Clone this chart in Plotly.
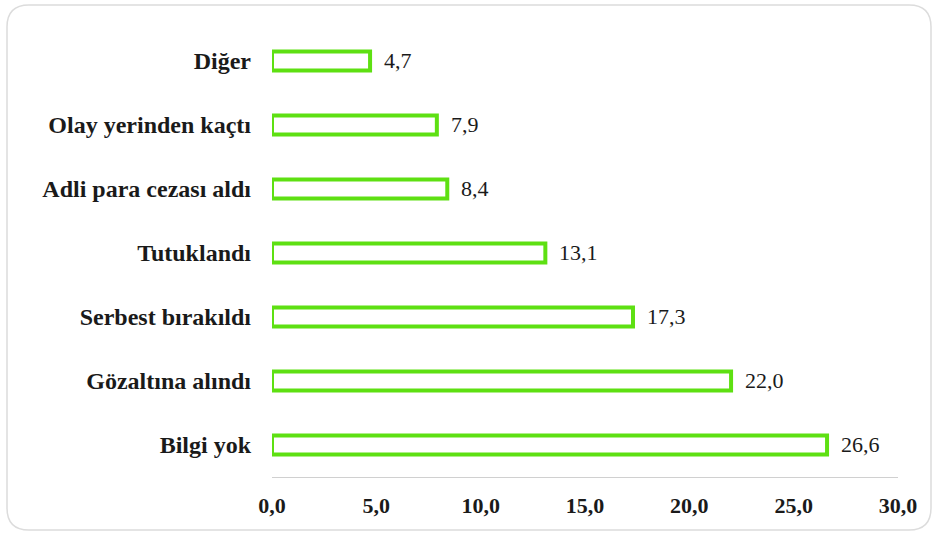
import plotly.graph_objects as go

# Categories listed bottom-to-top as drawn on the y axis
categories = ["Bilgi yok", "Gözaltına alındı", "Serbest bırakıldı", "Tutuklandı",
              "Adli para cezası aldı", "Olay yerinden kaçtı", "Diğer"]
values = [26.6, 22.0, 17.3, 13.1, 8.4, 7.9, 4.7]
tick_values = [0, 5, 10, 15, 20, 25, 30]

W, H = 936, 534
L, R, T, B = 272, 38, 29, 57
pw, ph = W - L - R, H - T - B

GREEN = "#5ee012"
SERIF = "Liberation Serif"

fig = go.Figure()
fig.add_trace(go.Bar(
    x=values, y=categories, orientation="h",
    width=0.3,
    marker=dict(color="white", line=dict(color=GREEN, width=4)),
    hoverinfo="skip",
))

# value labels to the right of each bar
for c, v in zip(categories, values):
    fig.add_annotation(
        x=v, y=c, text=f"{v:.1f}".replace(".", ","), showarrow=False,
        xanchor="left", xshift=12, yshift=1,
        font=dict(family=SERIF, size=22, color="#1a1a1a"),
    )

# rounded frame around the whole chart (in paper coordinates)
def px(x):
    return (x - L) / pw

def py(y):
    return (H - B - y) / ph

x0, x1, y0, y1, r = 7, 931, 5, 530, 22
path = (
    f"M {px(x0 + r)} {py(y0)} L {px(x1 - r)} {py(y0)} "
    f"Q {px(x1)} {py(y0)} {px(x1)} {py(y0 + r)} "
    f"L {px(x1)} {py(y1 - r)} Q {px(x1)} {py(y1)} {px(x1 - r)} {py(y1)} "
    f"L {px(x0 + r)} {py(y1)} Q {px(x0)} {py(y1)} {px(x0)} {py(y1 - r)} "
    f"L {px(x0)} {py(y0 + r)} Q {px(x0)} {py(y0)} {px(x0 + r)} {py(y0)} Z"
)
fig.add_shape(type="path", path=path, xref="paper", yref="paper",
              line=dict(color="#dcdcdc", width=1.5), layer="below")

fig.update_layout(
    width=W, height=H,
    margin=dict(l=L, r=R, t=T, b=B, autoexpand=False),
    paper_bgcolor="white", plot_bgcolor="white",
    separators=",.",
    showlegend=False,
    xaxis=dict(
        range=[0, 30], tickvals=tick_values, tickformat=".1f",
        showgrid=False, zeroline=False,
        showline=True, linecolor="#d0d0d0", linewidth=1,
        ticks="", ticklabelstandoff=9,
        tickfont=dict(family=SERIF, size=22, color="#1a1a1a", weight="bold"),
        fixedrange=True,
    ),
    yaxis=dict(
        range=[-0.5, 6.5], showgrid=False, zeroline=False, showline=False,
        ticks="", ticklabelstandoff=20,
        tickfont=dict(family=SERIF, size=24, color="#1a1a1a", weight="bold"),
        fixedrange=True,
    ),
)

fig.write_html("out.html")
